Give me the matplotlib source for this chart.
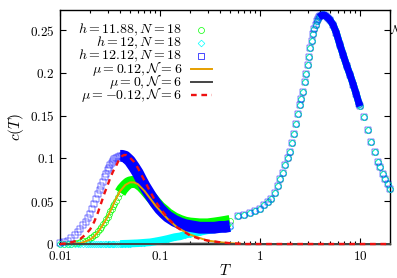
import numpy as np
import matplotlib
matplotlib.use('Agg')
import matplotlib.pyplot as plt
from matplotlib.lines import Line2D

plt.rcParams['mathtext.fontset'] = 'cm'
plt.rcParams['axes.unicode_minus'] = False

# low temperature part (dense data, shared T grid)
T_low = [0.010, 0.011, 0.012, 0.013, 0.014, 0.015, 0.016, 0.017, 0.018, 0.019,
         0.020, 0.021, 0.022, 0.023, 0.024, 0.025, 0.026, 0.027, 0.028, 0.029,
         0.030, 0.031, 0.032, 0.033, 0.034, 0.035, 0.036, 0.038, 0.040, 0.042,
         0.045, 0.048, 0.050, 0.055, 0.060, 0.065, 0.070, 0.080, 0.090, 0.100,
         0.110, 0.120, 0.140, 0.160, 0.180, 0.200, 0.250, 0.300, 0.350, 0.400,
         0.450, 0.500]

c_h1188_low = [0.0, 0.0, 0.0, 0.0005, 0.001, 0.001, 0.002, 0.003, 0.004, 0.005,
               0.007, 0.008, 0.010, 0.012, 0.015, 0.017, 0.020, 0.023, 0.026, 0.029,
               0.032, 0.035, 0.038, 0.041, 0.044, 0.047, 0.050, 0.055, 0.060, 0.064,
               0.068, 0.071, 0.072, 0.073, 0.071, 0.068, 0.064, 0.056, 0.049, 0.043,
               0.039, 0.035, 0.030, 0.027, 0.025, 0.024, 0.023, 0.023, 0.024, 0.025,
               0.026, 0.027]

c_h12_low = [0.0, 0.0, 0.0, 0.0, 0.0, 0.0, 0.0, 0.0, 0.0, 0.0,
             0.0, 0.0, 0.0, 0.0, 0.0, 0.0, 0.0, 0.0, 0.0, 0.0,
             0.0, 0.0, 0.0, 0.0, 0.0, 0.0, 0.0, 0.0, 0.0, 0.0002,
             0.0003, 0.0004, 0.0005, 0.0007, 0.0009, 0.0012, 0.0015, 0.002, 0.003, 0.004,
             0.005, 0.006, 0.008, 0.009, 0.011, 0.012, 0.014, 0.016, 0.017, 0.018,
             0.019, 0.020]

c_h1212_low = [0.001, 0.002, 0.004, 0.007, 0.010, 0.014, 0.018, 0.022, 0.026, 0.030,
               0.035, 0.041, 0.047, 0.053, 0.058, 0.063, 0.068, 0.073, 0.078, 0.082,
               0.086, 0.089, 0.092, 0.095, 0.097, 0.099, 0.100, 0.102, 0.103, 0.103,
               0.102, 0.099, 0.097, 0.090, 0.083, 0.075, 0.068, 0.057, 0.048, 0.041,
               0.036, 0.032, 0.027, 0.024, 0.022, 0.021, 0.019, 0.019, 0.019, 0.020,
               0.020, 0.021]

# high temperature part (all three h coincide)
T_high = [0.6, 0.7, 0.8, 0.9, 1.0, 1.1, 1.2, 1.3, 1.4, 1.5, 1.6, 1.7, 1.8, 1.9,
          2.0, 2.1, 2.2, 2.3, 2.4, 2.5, 2.6, 2.7, 2.8, 2.9, 3.0, 3.1, 3.2, 3.3,
          3.4, 3.5, 3.6, 3.7, 3.8, 3.9, 4.0, 4.2, 4.4, 4.6, 4.8, 5.0, 5.4, 5.8,
          6.3, 6.8, 7.4, 8.0, 8.6, 9.2, 9.8, 10.0, 11, 12, 13, 14, 15, 16, 17,
          18, 19, 20]
c_high = [0.033, 0.034, 0.036, 0.039, 0.041, 0.045, 0.049, 0.053, 0.060, 0.068,
          0.076, 0.083, 0.092, 0.100, 0.108, 0.118, 0.128, 0.140, 0.152, 0.162,
          0.170, 0.178, 0.189, 0.199, 0.209, 0.219, 0.229, 0.237, 0.245, 0.251,
          0.256, 0.260, 0.263, 0.265, 0.266, 0.2675, 0.2675, 0.266, 0.264, 0.262,
          0.256, 0.247, 0.233, 0.221, 0.208, 0.197, 0.186, 0.175, 0.164, 0.161,
          0.148, 0.133, 0.119, 0.108, 0.096, 0.090, 0.082, 0.076, 0.070, 0.064]

# model curves
T_mup = [0.010, 0.014, 0.016, 0.018, 0.020, 0.022, 0.024, 0.026, 0.028, 0.030,
         0.033, 0.036, 0.040, 0.045, 0.050, 0.055, 0.060, 0.070, 0.080, 0.090,
         0.100, 0.120, 0.150, 0.200, 0.250, 0.300, 0.400, 0.500, 0.700, 1.0, 20.0]
c_mup = [0.0, 0.0005, 0.001, 0.003, 0.005, 0.009, 0.014, 0.020, 0.026, 0.032,
         0.042, 0.052, 0.062, 0.069, 0.072, 0.072, 0.070, 0.062, 0.053, 0.045,
         0.039, 0.029, 0.019, 0.011, 0.007, 0.004, 0.002, 0.001, 0.0, 0.0, 0.0]

T_mu0 = [0.010, 0.050, 0.100, 0.200, 0.300, 0.500, 1.0, 20.0]
c_mu0 = [0.0, 0.0, 0.0, 0.0005, 0.0005, 0.0, 0.0, 0.0]

T_mum = [0.010, 0.012, 0.014, 0.016, 0.018, 0.020, 0.022, 0.024, 0.026, 0.028,
         0.030, 0.032, 0.034, 0.036, 0.038, 0.040, 0.042, 0.044, 0.046, 0.048,
         0.050, 0.055, 0.060, 0.070, 0.080, 0.090, 0.100, 0.120, 0.150, 0.200,
         0.250, 0.300, 0.400, 0.500, 0.700, 1.0, 20.0]
c_mum = [0.0, 0.001, 0.003, 0.006, 0.011, 0.017, 0.026, 0.037, 0.049, 0.060,
         0.069, 0.078, 0.085, 0.090, 0.096, 0.100, 0.103, 0.104, 0.104, 0.103,
         0.101, 0.096, 0.089, 0.074, 0.061, 0.050, 0.042, 0.030, 0.019, 0.010,
         0.006, 0.004, 0.002, 0.001, 0.0, 0.0, 0.0]

xticks = [0.01, 0.1, 1, 10]
xticklabels = ['0.01', '0.1', '1', '10']
yticks = [0, 0.05, 0.1, 0.15, 0.2, 0.25]
yticklabels = ['0', '0.05', '0.1', '0.15', '0.2', '0.25']

green = '#00ff00'
cyan = '#00ffff'
blue = '#0000ff'

W, H = 397, 278
fig = plt.figure(figsize=(W / 100, H / 100), dpi=100)
ax = fig.add_axes([60 / W, 1 - 244 / H, 330 / W, 234.5 / H])

lo = 28   # start of dense band in the low-T grid
hi = 33   # start of dense band in the high-T grid
he = 50   # end of dense band in the high-T grid

series = [(c_h1188_low, green, 'o', 4.3, 0.45, r'$h = 11.88, N = 18$'),
          (c_h12_low, cyan, 'D', 3.4, 0.45, r'$h = 12, N = 18$'),
          (c_h1212_low, blue, 's', 4.9, 0.35, r'$h = 12.12, N = 18$')]
entries = []
for k, (c_low, col, mk, ms, mw, lab) in enumerate(series):
    z = 3 + k
    bw = 5.5 if mk == 'D' else 8.5
    ax.plot(T_low[lo:], c_low[lo:], color=col, lw=bw, zorder=z,
            solid_capstyle='butt', clip_on=False)
    ax.plot(T_high[hi:he], c_high[hi:he], color=col, lw=5, zorder=z,
            solid_capstyle='butt', clip_on=False)
    ax.plot(T_low + T_high, c_low + c_high, ls='none', marker=mk,
            ms=ms, mfc='none', mec=col, mew=mw, zorder=z, clip_on=False)
    entries.append((lab, dict(ls='none', marker=mk, ms=ms, mfc='none',
                              mec=col, mew=0.5), True))

lines = [(T_mup, c_mup, dict(color='#e69f00', lw=1.4), r'$\mu = 0.12, \mathcal{N} = 6$'),
         (T_mu0, c_mu0, dict(color='#444444', lw=1.4), r'$\mu = 0, \mathcal{N} = 6$'),
         (T_mum, c_mum, dict(color='#ee1111', lw=1.7, ls=(0, (2.4, 2.0))),
          r'$\mu = -0.12, \mathcal{N} = 6$')]
for k, (tx, cy, st, lab) in enumerate(lines):
    ax.plot(tx, cy, zorder=7 + k, clip_on=False, **st)
    entries.append((lab, st, False))

ax.set_xscale('log')
ax.set_xlim(0.01, 20)
ax.set_ylim(0, 0.274)
ax.set_xticks(xticks)
ax.set_xticklabels(['$' + s + '$' for s in xticklabels])
ax.set_yticks(yticks)
ax.set_yticklabels(['$' + s + '$' for s in yticklabels])
ax.tick_params(which='both', direction='in', top=True, right=True,
               labelsize=9.5, width=0.8)
ax.tick_params(which='major', length=4, pad=4)
ax.tick_params(which='minor', length=2)
for s in ax.spines.values():
    s.set_linewidth(1.0)
    s.set_zorder(2)

ax.set_xlabel(r'$T$', fontsize=11, labelpad=0)
ax.set_ylabel(r'$c(T)$', fontsize=11, labelpad=3)

# gnuplot-like key: right-aligned labels, samples on the right
for i, (lab, st, is_marker) in enumerate(entries):
    yc = 1 - (29.8 + 13.1 * i) / H
    fig.text(182 / W, yc - 3.6 / H, lab, fontsize=10, ha='right', va='baseline')
    if is_marker:
        fig.add_artist(Line2D([201 / W], [yc], transform=fig.transFigure, **st))
    else:
        fig.add_artist(Line2D([191 / W, 212 / W], [yc, yc], transform=fig.transFigure, **st))

fig.text(390 / W, 1 - 30 / H, r'$\mathcal{N}$', fontsize=9, ha='left', va='center')

fig.savefig('out.png', dpi=100)
